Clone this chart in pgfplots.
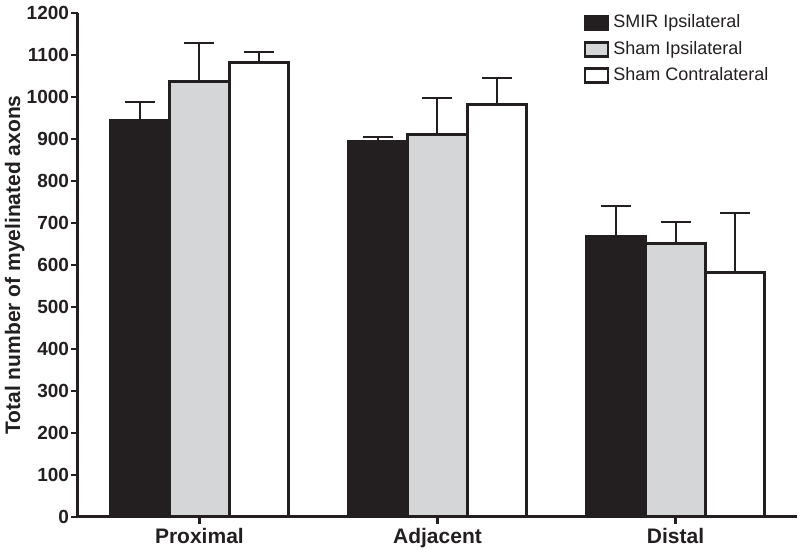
\documentclass[border=0pt]{standalone}
\usepackage{fontspec}
\setmainfont{Liberation Sans}
\usepackage{pgfplots}
\pgfplotsset{compat=1.18}

\definecolor{barblack}{RGB}{35,31,32}
\definecolor{bargray}{RGB}{213,214,216}
\definecolor{linedark}{RGB}{35,31,32}

\begin{document}
\begin{tikzpicture}
\begin{axis}[
    scale only axis,
    width=359.5pt, height=252pt,
    ybar=0pt,
    bar width=0.25,
    xmin=-0.51, xmax=2.51,
    ymin=0, ymax=1200,
    ytick={0,100,200,300,400,500,600,700,800,900,1000,1100,1200},
    yticklabels={0,100,200,300,400,500,600,700,800,900,1000,1100,1200},
    xtick={0,1,2},
    xticklabels={Proximal,Adjacent,Distal},
    axis lines*=left,
    axis line style={line width=1.5pt, color=linedark},
    tick align=outside,
    major tick length=3.5pt,
    tick style={line width=1.2pt, color=linedark},
    yticklabel style={font=\bfseries\fontsize{9.5}{11}\selectfont, color=linedark, inner sep=0.8pt},
    xticklabel style={font=\bfseries\fontsize{10.5}{12}\selectfont, color=linedark, inner sep=2pt},
    ylabel={Total number of myelinated axons},
    ylabel style={font=\bfseries\fontsize{10.5}{12}\selectfont, color=linedark,
        at={(axis description cs:0,0.5)}, anchor=south, inner sep=0pt, yshift=26.5pt},
    legend style={draw=none, fill=none, at={(0.703,1.005)}, anchor=north west,
        font=\fontsize{9}{10}\selectfont, row sep=1.2pt, inner sep=0pt,
        text=linedark},
    legend cell align=left,
    legend image code/.code={\draw[#1, line width=1.3pt] (0pt,-3.5pt) rectangle (11.5pt,3.5pt);},
    every axis plot/.append style={draw=linedark, line width=1.5pt},
    error bars/y dir=plus,
    error bars/y explicit,
    error bars/error bar style={line width=1pt, color=linedark},
    error bars/error mark options={rotate=90, mark size=7.5pt, line width=1pt, color=linedark},
]
% SMIR Ipsilateral
\addplot[fill=barblack] coordinates {
    (0,945) +- (0,43)
    (1,895) +- (0,10)
    (2,667) +- (0,73)
};
% Sham Ipsilateral
\addplot[fill=bargray] coordinates {
    (0,1038) +- (0,91)
    (1,910) +- (0,88)
    (2,650) +- (0,52)
};
% Sham Contralateral
\addplot[fill=white] coordinates {
    (0,1081) +- (0,26)
    (1,981) +- (0,64)
    (2,581) +- (0,143)
};
\legend{SMIR Ipsilateral, Sham Ipsilateral, Sham Contralateral}
\end{axis}
\pgfresetboundingbox
\useasboundingbox (current axis.south west) ++(-39pt,-16.5pt) rectangle ++(400pt,275pt);
\end{tikzpicture}
\end{document}
